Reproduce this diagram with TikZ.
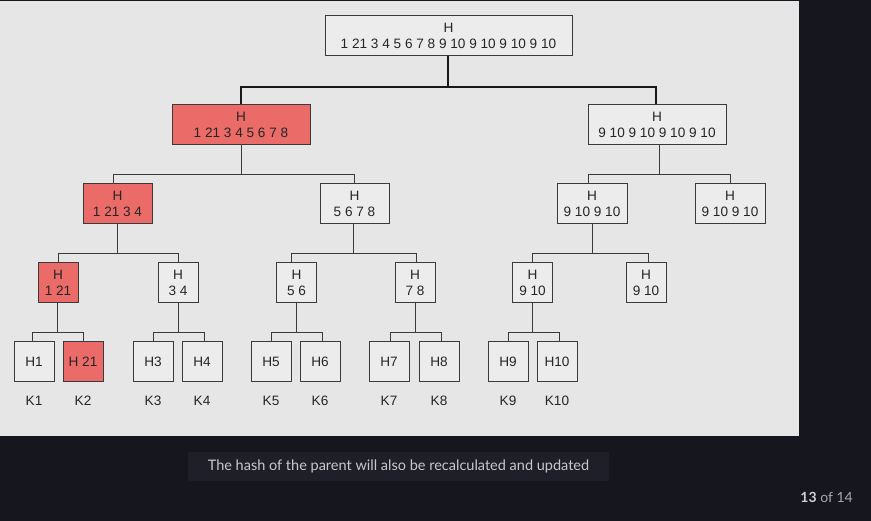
\documentclass[tikz,border=0pt]{standalone}
\usepackage{fontspec}
\setmainfont{Liberation Sans}
\newfontfamily\capfont{Lato}
\definecolor{pagebg}{HTML}{16161E}
\definecolor{panelbg}{HTML}{E6E6E6}
\definecolor{boxfill}{HTML}{ECECEC}
\definecolor{redfill}{HTML}{EA6B67}
\definecolor{edge}{HTML}{3A3A3A}
\definecolor{capbg}{HTML}{1F1F29}
\definecolor{captext}{HTML}{C8C8CC}
\begin{document}
\begin{tikzpicture}[x=1pt,y=-1pt,
  hbox/.style={draw=edge, line width=1pt, fill=boxfill, inner sep=0pt, align=center,
     minimum height=40pt, text=black!85, font=\fontsize{13.6}{16.5}\selectfont},
  leafbox/.style={hbox, minimum width=40pt},
  hot/.style={fill=redfill},
  klabel/.style={font=\fontsize{13.6}{16}\selectfont, text=black!85, inner sep=0pt},
  link/.style={draw=edge, line width=1pt},
  biglink/.style={draw=black!90, line width=2pt}]
\useasboundingbox (0,0) rectangle (871,521);
\fill[pagebg] (0,0) rectangle (871,521);
\fill[panelbg] (0,1.5) rectangle (799,436);

% level 0
\node[hbox, minimum width=247pt] (r) at (448.5,36) {H\\1 21 3 4 5 6 7 8 9 10 9 10 9 10 9 10};
% level 1
\node[hbox, hot, minimum width=138pt] (la) at (241,125) {H\\1 21 3 4 5 6 7 8};
\node[hbox, minimum width=138pt] (lb) at (657,125) {H\\9 10 9 10 9 10 9 10};
% level 2
\node[hbox, hot, minimum width=69pt] (ma) at (117.5,204) {H\\1 21 3 4};
\node[hbox, minimum width=69pt] (mb) at (354.5,204) {H\\5 6 7 8};
\node[hbox, minimum width=70pt] (mc) at (592,204) {H\\9 10 9 10};
\node[hbox, minimum width=70pt] (md) at (730,204) {H\\9 10 9 10};
% level 3
\node[leafbox, hot] (na) at (58,283) {H\\1 21};
\node[leafbox] (nb) at (178,283) {H\\3 4};
\node[leafbox] (nc) at (296.5,283) {H\\5 6};
\node[leafbox] (nd) at (415,283) {H\\7 8};
\node[leafbox] (ne) at (532.5,283) {H\\9 10};
\node[leafbox] (nf) at (646,283) {H\\9 10};
% leaves
\node[leafbox] (h1) at (34,362) {H1};
\node[leafbox, hot] (h2) at (83,362) {H 21};
\node[leafbox] (h3) at (153,362) {H3};
\node[leafbox] (h4) at (202,362) {H4};
\node[leafbox] (h5) at (271,362) {H5};
\node[leafbox] (h6) at (320,362) {H6};
\node[leafbox] (h7) at (389,362) {H7};
\node[leafbox] (h8) at (439,362) {H8};
\node[leafbox] (h9) at (508,362) {H9};
\node[leafbox] (h10) at (557,362) {H10};
% keys
\node[klabel] (k1) at (34,401) {K1};
\node[klabel] (k2) at (83,401) {K2};
\node[klabel] (k3) at (153,401) {K3};
\node[klabel] (k4) at (202,401) {K4};
\node[klabel] (k5) at (271,401) {K5};
\node[klabel] (k6) at (320,401) {K6};
\node[klabel] (k7) at (389,401) {K7};
\node[klabel] (k8) at (439,401) {K8};
\node[klabel] (k9) at (508,401) {K9};
\node[klabel] (k10) at (557,401) {K10};

% connectors
\draw[biglink] ([xshift=-1pt]r.south) -- ++(0,31) -| (la.north);
\draw[biglink] ([xshift=-1pt]r.south) -- ++(0,31) -| ([xshift=-1pt]lb.north);

\draw[link] (la.south) -- ++(0,29) -| ([xshift=-4.5pt]ma.north);
\draw[link] (la.south) -- ++(0,29) -| (mb.north);
\draw[link] ([xshift=2pt]lb.south) -- ++(0,29) -| ([xshift=-4pt]mc.north);
\draw[link] ([xshift=2pt]lb.south) -- ++(0,29) -| (md.north);

\draw[link] (ma.south) -- ++(0,29) -| (na.north);
\draw[link] (ma.south) -- ++(0,29) -| (nb.north);
\draw[link] ([xshift=-1.5pt]mb.south) -- ++(0,29) -| ([xshift=-5.5pt]nc.north);
\draw[link] ([xshift=-1.5pt]mb.south) -- ++(0,29) -| ([xshift=1pt]nd.north);
\draw[link] (mc.south) -- ++(0,29) -| ([xshift=-0.5pt]ne.north);
\draw[link] (mc.south) -- ++(0,29) -| ([xshift=2pt]nf.north);

\draw[link] ([xshift=-1pt]na.south) -- ++(0,29) -| ([xshift=-2pt]h1.north);
\draw[link] ([xshift=-1pt]na.south) -- ++(0,29) -| (h2.north);
\draw[link] (nb.south) -- ++(0,29) -| (h3.north);
\draw[link] (nb.south) -- ++(0,29) -| ([xshift=2pt]h4.north);
\draw[link] (nc.south) -- ++(0,29) -| (h5.north);
\draw[link] (nc.south) -- ++(0,29) -| ([xshift=2pt]h6.north);
\draw[link] (nd.south) -- ++(0,29) -| ([xshift=1pt]h7.north);
\draw[link] (nd.south) -- ++(0,29) -| ([xshift=2pt]h8.north);
\draw[link] (ne.south) -- ++(0,29) -| (h9.north);
\draw[link] (ne.south) -- ++(0,29) -| ([xshift=2pt]h10.north);

% caption
\node[fill=capbg, rounded corners=2pt, minimum width=421pt, minimum height=29pt, inner sep=0pt,
      text=captext, font=\capfont\fontsize{14.5}{16}\selectfont] (cap) at (398.5,466.5)
      {The hash of the parent will also be recalculated and updated};
\node[anchor=east, inner sep=0pt, text=white!62!pagebg, font=\capfont\fontsize{14}{16}\selectfont] (pg) at (853,497)
      {\textcolor{white!80!pagebg}{\textbf{13}} of 14};
\end{tikzpicture}
\end{document}
